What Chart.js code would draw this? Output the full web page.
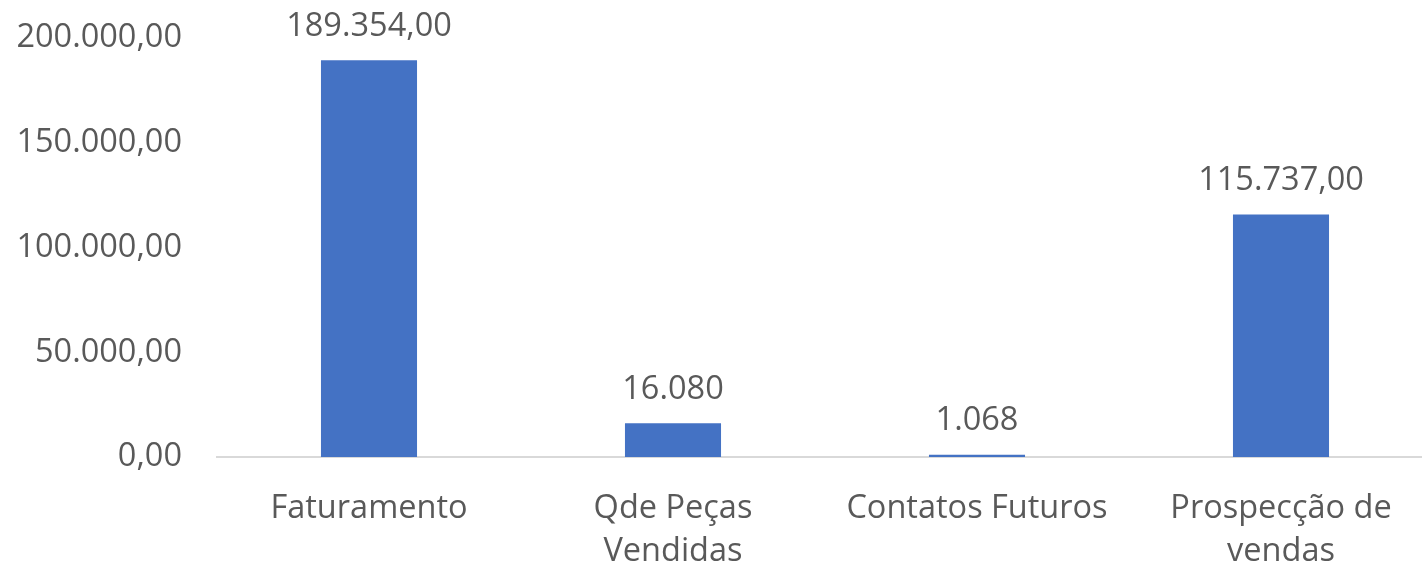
<!DOCTYPE html>
<html>
<head>
<meta charset="utf-8">
<script src="https://cdn.jsdelivr.net/npm/chart.js@4/dist/chart.umd.min.js"></script>
<style>
html,body{margin:0;padding:0;background:#fff;overflow:hidden;}
#wrap{width:1436px;height:564px;position:relative;}
</style>
</head>
<body>
<div id="wrap"><canvas id="c"></canvas></div>
<script>
const categories = [["Faturamento"], ["Qde Peças", "Vendidas"], ["Contatos Futuros"], ["Prospecção de", "vendas"]];
const values = [189354, 16080, 1068, 115737];
const valueLabels = ["189.354,00", "16.080", "1.068", "115.737,00"];
const yTicks = [0, 50000, 100000, 150000, 200000];

function fmtTick(v){
  const s = Math.round(v).toString().replace(/\B(?=(\d{3})+(?!\d))/g, ".");
  return s + ",00";
}

const FONT = "'Open Sans', 'Noto Sans', sans-serif";
const TXT = "#595959";
const FS = 32.5;

const labelPlugin = {
  id: 'valueLabels',
  afterDatasetsDraw(chart){
    const ctx = chart.ctx;
    const meta = chart.getDatasetMeta(0);
    ctx.save();
    ctx.font = FS + "px " + FONT;
    ctx.fillStyle = TXT;
    ctx.textAlign = 'center';
    ctx.textBaseline = 'middle';
    meta.data.forEach((bar, i) => {
      ctx.fillText(valueLabels[i], bar.x, bar.y - 34);
    });
    ctx.restore();
  }
};

new Chart(document.getElementById('c'), {
  type: 'bar',
  data: {
    labels: categories,
    datasets: [{
      data: values,
      backgroundColor: '#4472C4',
      borderWidth: 0,
      barPercentage: 0.316,
      categoryPercentage: 1.0
    }]
  },
  options: {
    responsive: true,
    maintainAspectRatio: false,
    animation: false,
    layout: { padding: { top: 38, right: 3, left: 0, bottom: 0 } },
    plugins: { legend: { display: false }, tooltip: { enabled: false } },
    scales: {
      x: {
        grid: { display: false, drawTicks: false },
        border: { display: true, color: '#D9D9D9', width: 2 },
        ticks: {
          color: TXT,
          font: { family: FONT, size: FS, lineHeight: 1.32 },
          padding: 30,
          maxRotation: 0,
          autoSkip: false
        },
        afterFit(scale){ scale.height = 107; scale.paddingLeft = 0; scale.paddingRight = 0; scale.paddingTop = 0; scale.paddingBottom = 0; }
      },
      y: {
        min: 0,
        max: 200000,
        afterBuildTicks(scale){ scale.ticks = yTicks.map(v => ({value: v})); },
        grid: { display: false, drawTicks: false },
        border: { display: false },
        ticks: {
          color: TXT,
          font: { family: FONT, size: FS },
          padding: 35,
          callback: v => fmtTick(v)
        },
        afterFit(scale){ scale.width = 217; scale.paddingTop = 0; scale.paddingBottom = 0; scale.paddingLeft = 0; scale.paddingRight = 0; }
      }
    }
  },
  plugins: [labelPlugin]
});
</script>
</body>
</html>
